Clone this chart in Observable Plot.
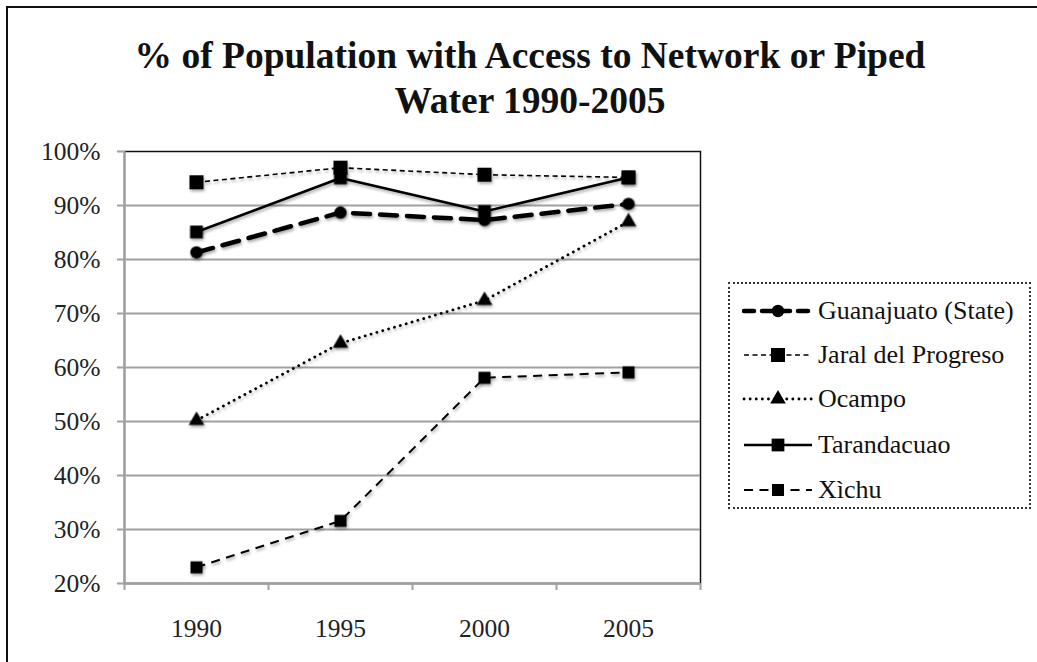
<!DOCTYPE html>
<html>
<head>
<meta charset="utf-8">
<script src="https://cdn.jsdelivr.net/npm/d3@7"></script>
<script src="https://cdn.jsdelivr.net/npm/@observablehq/plot@0.6"></script>
<style>
  html, body { margin: 0; padding: 0; background: #fff; }
  #wrap { position: relative; width: 1037px; height: 662px; overflow: hidden; font-family: "Liberation Serif", Tinos, "DejaVu Serif", serif; }
  #border { position: absolute; left: 6px; top: 6px; width: 1040px; height: 670px; border-left: 2px solid #111; border-top: 2px solid #111; box-sizing: border-box; }
  #title { position: absolute; left: 0; top: 33px; width: 1060px; text-align: center; font-weight: bold; font-size: 37.5px; line-height: 45px; color: #111; }
  #chart { position: absolute; left: 0; top: 0; }
  #chart svg text { font-family: "Liberation Serif", Tinos, "DejaVu Serif", serif; }
  #chart svg g[aria-label="line"], #chart svg g[aria-label="dot"] { filter: drop-shadow(1px 2px 1.5px rgba(0,0,0,0.35)); }
  #legend { position: absolute; left: 728px; top: 282px; width: 303px; height: 227px; border: 2px dotted #333; box-sizing: border-box; background: #fff; }
  .row { position: absolute; left: 12px; height: 30px; display: flex; align-items: center; }
  .row svg { width: 72px; height: 30px; margin-right: 4px; }
  .row span { font-size: 26px; color: #111; white-space: nowrap; }
</style>
</head>
<body>
<div id="wrap">
  <div id="border"></div>
  <div id="title">% of Population with Access to Network or Piped<br>Water 1990-2005</div>
  <div id="chart"></div>
  <div id="legend"></div>
</div>
<script>
const years = [1990, 1995, 2000, 2005];
const seriesNames = ["Guanajuato (State)", "Jaral del Progreso", "Ocampo", "Tarandacuao", "Xichu"];
const legendLabels = ["Guanajuato (State)", "Jaral del Progreso", "Ocampo", "Tarandacuao", "Xìchu"];
const guanajuato = [81.3, 88.7, 87.3, 90.3];
const jaral = [94.3, 97.0, 95.7, 95.2];
const ocampo = [50.2, 64.5, 72.4, 87.0];
const tarandacuao = [85.1, 95.1, 88.9, 95.2];
const xichu = [23.0, 31.6, 58.1, 59.1];
const yTicks = [20, 30, 40, 50, 60, 70, 80, 90, 100];
const xBoundaries = [1987.5, 1992.5, 1997.5, 2002.5, 2007.5];

const styles = {
  "Guanajuato (State)": {strokeWidth: 4.5, dash: "17,10", cap: "round", symbol: "circle", r: 6.2},
  "Jaral del Progreso": {strokeWidth: 1.6, dash: "5,3.5", cap: "butt", symbol: "square", r: 7.9},
  "Ocampo": {strokeWidth: 2.8, dash: "0.1,6", cap: "round", symbol: "triangle", r: 5.8},
  "Tarandacuao": {strokeWidth: 2.6, dash: null, cap: "butt", symbol: "square", r: 7.2},
  "Xichu": {strokeWidth: 2, dash: "9,6.5", cap: "butt", symbol: "square", r: 6.8}
};
const values = [guanajuato, jaral, ocampo, tarandacuao, xichu];
const rows = [];
seriesNames.forEach((s, i) => years.forEach((y, j) => rows.push({series: s, year: y, value: values[i][j]})));

const marks = [
  Plot.frame({stroke: "#111", strokeWidth: 1.5}),
  Plot.ruleY(yTicks.filter(d => d < 100), {stroke: "#a0a0a0", strokeWidth: 2}),
  Plot.ruleX([1987.5], {stroke: "#a0a0a0", strokeWidth: 2}),
  Plot.ruleY([20], {stroke: "#a0a0a0", strokeWidth: 2}),
  Plot.axisY({ticks: yTicks, tickSize: 7, tickPadding: 17, tickFormat: d => d + "%", stroke: "#a0a0a0", strokeWidth: 2, fontSize: 25.5, fill: "#222", label: null}),
  Plot.axisX({ticks: xBoundaries, tickSize: 7, tickFormat: () => "", stroke: "#a0a0a0", strokeWidth: 2, label: null}),
  Plot.axisX({ticks: years, tickSize: 0, tickPadding: 35, tickFormat: d => String(d), fontSize: 25.5, fill: "#222", label: null})
];
seriesNames.forEach(s => {
  const st = styles[s];
  const data = rows.filter(d => d.series === s);
  marks.push(Plot.line(data, {x: "year", y: "value", stroke: "#000", strokeWidth: st.strokeWidth, strokeDasharray: st.dash, strokeLinecap: st.cap}));
});
seriesNames.forEach(s => {
  const st = styles[s];
  const data = rows.filter(d => d.series === s);
  marks.push(Plot.dot(data, {x: "year", y: "value", symbol: () => st.symbol, r: st.r, fill: "#000", stroke: "none"}));
});

const chart = Plot.plot({
  width: 1037,
  height: 662,
  marginLeft: 124,
  marginRight: 337,
  marginTop: 151,
  marginBottom: 79,
  style: {background: "transparent", fontFamily: "'Liberation Serif', Tinos, 'DejaVu Serif', serif", overflow: "visible"},
  x: {type: "linear", domain: [1987.5, 2007.5], axis: null, label: null},
  y: {domain: [20, 100], axis: null, label: null},
  symbol: {type: "identity"},
  marks
});
document.getElementById("chart").appendChild(chart);

// Legend
const legend = document.getElementById("legend");
const rowCenters = [311, 355, 399, 445, 490];
seriesNames.forEach((s, i) => {
  const st = styles[s];
  const row = document.createElement("div");
  row.className = "row";
  row.style.top = (rowCenters[i] - 282 - 2 - 15) + "px";
  const svg = d3.create("svg").attr("viewBox", "0 0 72 30");
  svg.append("line").attr("x1", 2).attr("x2", 70).attr("y1", 15).attr("y2", 15)
    .attr("stroke", "#000").attr("stroke-width", st.strokeWidth)
    .attr("stroke-dasharray", st.dash === "17,10" ? "10,8" : st.dash)
    .attr("stroke-linecap", st.cap);
  const sym = {circle: d3.symbolCircle, square: d3.symbolSquare, triangle: d3.symbolTriangle}[st.symbol];
  svg.append("path").attr("transform", "translate(36,15)")
    .attr("d", d3.symbol(sym, Math.PI * st.r * st.r)()).attr("fill", "#000");
  row.appendChild(svg.node());
  const t = document.createElement("span");
  t.textContent = legendLabels[i];
  row.appendChild(t);
  legend.appendChild(row);
});
</script>
</body>
</html>
